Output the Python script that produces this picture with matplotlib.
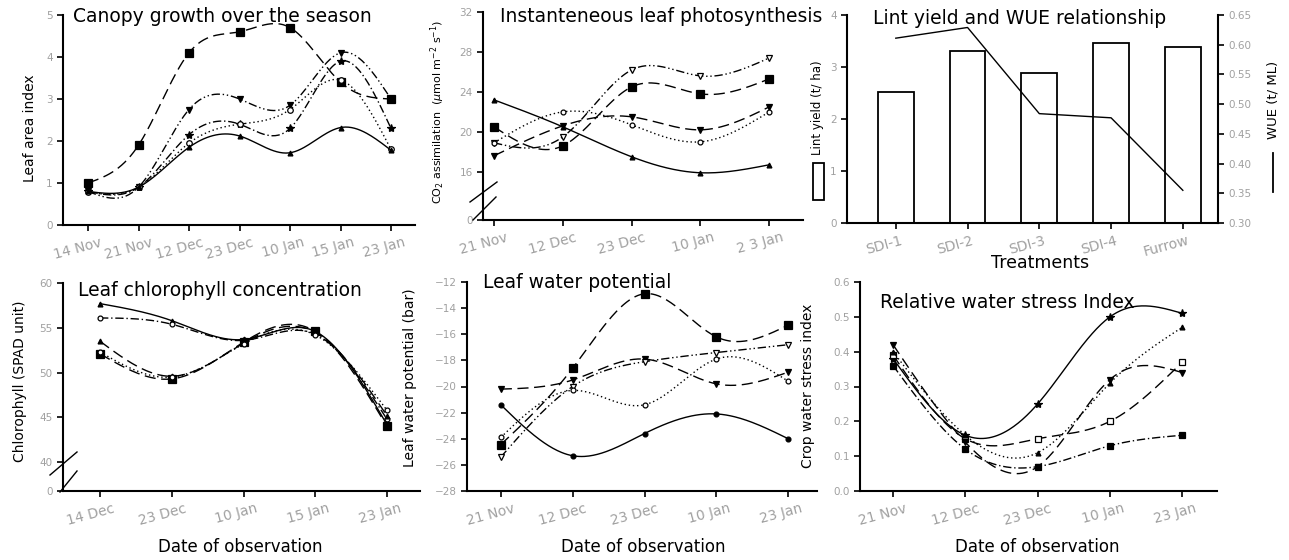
import numpy as np
import matplotlib.pyplot as plt
from matplotlib.lines import Line2D
from matplotlib.patches import Rectangle
import matplotlib.transforms as mtrans

W, H = 1289, 560
GRAY = '#a0a0a0'

# ---- data ----
lai_dates = ['14 Nov', '21 Nov', '12 Dec', '23 Dec', '10 Jan', '15 Jan', '23 Jan']
lai_sq = [1.0, 1.9, 4.1, 4.6, 4.7, 3.4, 3.0]
lai_tri = [0.8, 0.9, 2.75, 3.0, 2.85, 4.1, 3.0]
lai_star = [0.8, 0.9, 2.15, 2.4, 2.3, 3.9, 2.3]
lai_open = [0.78, 0.9, 1.95, 2.4, 2.75, 3.45, 1.8]
lai_solid = [0.8, 0.9, 1.85, 2.12, 1.72, 2.32, 1.78]

ps_dates = ['21 Nov', '12 Dec', '23 Dec', '10 Jan', '2 3 Jan']
ps_sq = [20.5, 18.6, 24.5, 23.8, 25.3]
ps_tri = [23.2, 20.5, 17.5, 15.9, 16.7]
ps_otri = [18.9, 19.5, 26.2, 25.6, 27.4]
ps_dtri = [17.6, 20.6, 21.5, 20.2, 22.5]
ps_circ = [18.9, 22.0, 20.7, 19.0, 22.0]

treatments = ['SDI-1', 'SDI-2', 'SDI-3', 'SDI-4', 'Furrow']
lint_yield = [2.52, 3.31, 2.89, 3.47, 3.38]
wue = [0.611, 0.629, 0.484, 0.477, 0.355]

chl_dates = ['14 Dec', '23 Dec', '10 Jan', '15 Jan', '23 Jan']
chl_a = [57.7, 55.8, 53.7, 54.6, 44.2]
chl_b = [56.1, 55.4, 53.6, 54.3, 44.8]
chl_c = [53.5, 49.6, 53.3, 54.5, 45.2]
chl_sq = [52.1, 49.3, 53.4, 54.6, 44.0]
chl_d = [52.3, 49.5, 53.2, 54.2, 45.8]

lwp_dates = ['21 Nov', '12 Dec', '23 Dec', '10 Jan', '23 Jan']
lwp_sq = [-24.45, -18.6, -12.9, -16.2, -15.3]
lwp_dtri = [-20.2, -19.5, -17.9, -19.8, -18.9]
lwp_otri = [-25.4, -20.0, -18.1, -17.4, -16.8]
lwp_ocirc = [-23.9, -20.3, -21.4, -17.9, -19.6]
lwp_circ = [-21.4, -25.3, -23.6, -22.1, -24.0]

cwsi_dates = ['21 Nov', '12 Dec', '23 Dec', '10 Jan', '23 Jan']
cwsi_star = [0.38, 0.16, 0.25, 0.50, 0.51]
cwsi_osq = [0.39, 0.15, 0.15, 0.20, 0.37]
cwsi_dot = [0.40, 0.16, 0.11, 0.31, 0.47]
cwsi_dtri = [0.42, 0.14, 0.07, 0.32, 0.34]
cwsi_sq = [0.36, 0.12, 0.07, 0.13, 0.16]

# line styles
LONG = (0, (8, 4))
DDOT = (0, (6, 2, 1, 2, 1, 2))
DDOT1 = (0, (6, 2, 1, 2))
DOT = (0, (1, 2))
SOLID = '-'


def spline(y, n=200):
  # natural cubic spline through evenly spaced points (smoothed line like the source)
  y = np.asarray(y, float)
  m = len(y)
  A = np.zeros((m, m))
  b = np.zeros(m)
  A[0, 0] = A[-1, -1] = 1
  for i in range(1, m - 1):
    A[i, i - 1:i + 2] = [1, 4, 1]
    b[i] = 6 * (y[i + 1] - 2 * y[i] + y[i - 1])
  M = np.linalg.solve(A, b)
  xs = np.linspace(0, m - 1, n)
  i = np.minimum(xs.astype(int), m - 2)
  t = xs - i
  ys = ((1 - t) * y[i] + t * y[i + 1]
        + ((1 - t) ** 3 - (1 - t)) * M[i] / 6 + (t ** 3 - t) * M[i + 1] / 6)
  return xs, ys


def series(ax, y, ls, marker, ms=5, filled=True):
  xs, ys = spline(y)
  ax.plot(xs, ys, color='black', lw=1.0, ls=ls)
  ax.plot(range(len(y)), y, ls='none', marker=marker, ms=ms, color='black',
          mfc='black' if filled else 'white', mew=0.9)


def make_ax(l, t, r, b):
  ax = fig.add_axes([l / W, 1 - b / H, (r - l) / W, (b - t) / H])
  for s in ['top', 'right']:
    ax.spines[s].set_visible(False)
  for s in ['left', 'bottom']:
    ax.spines[s].set_linewidth(1.5)
  ax.tick_params(direction='out', length=4, width=1.2, colors='black',
                 labelcolor=GRAY, labelsize=7.5)
  return ax


def date_ticks(ax, labels, size=10, rot=15, shift=12):
  ax.set_xticks(range(len(labels)))
  ax.set_xticklabels(labels, rotation=rot, ha='right', rotation_mode='anchor',
                     fontsize=size, color=GRAY)
  off = mtrans.ScaledTranslation(shift / 100, 0, fig.dpi_scale_trans)
  for lab in ax.get_xticklabels():
    lab.set_transform(lab.get_transform() + off)


def ftext(x, y, s, **kw):
  fig.text(x / W, 1 - y / H, s, **kw)


def axis_break(x0, y0, x1, y1):
  fig.add_artist(Line2D([x0 / W, x1 / W], [1 - y0 / H, 1 - y1 / H],
                        transform=fig.transFigure, color='black', lw=1.0))


fig = plt.figure(figsize=(W / 100, H / 100), dpi=100)

# ---- panel 1: canopy growth ----
ax1 = make_ax(63, 15, 415, 225)
series(ax1, lai_sq, LONG, 's', 6)
series(ax1, lai_tri, DDOT, 'v', 5)
series(ax1, lai_star, DDOT1, '*', 6)
series(ax1, lai_open, DOT, 'o', 4, filled=False)
series(ax1, lai_solid, SOLID, '^', 3.5)
ax1.set_xlim(-0.495, 6.475)
ax1.set_ylim(0, 5)
ax1.set_yticks(range(6))
date_ticks(ax1, lai_dates)
ftext(73, 17, 'Canopy growth over the season', fontsize=13.5, va='center')
ftext(30, 128, 'Leaf area index', fontsize=10, rotation=90, ha='center', va='center')

# ---- panel 2: photosynthesis ----
ax2 = make_ax(483, 12, 803, 220)
series(ax2, ps_sq, LONG, 's', 6)
series(ax2, ps_tri, SOLID, '^', 3.5)
series(ax2, ps_otri, DDOT, 'v', 5, filled=False)
series(ax2, ps_dtri, LONG, 'v', 5)
series(ax2, ps_circ, DOT, 'o', 3.5, filled=False)
ax2.set_xlim(-0.16, 4.49)
ax2.set_ylim(11.17, 32)
ax2.set_yticks([11.17, 16, 20, 24, 28, 32])
ax2.set_yticklabels(['0', '16', '20', '24', '28', '32'])
date_ticks(ax2, ps_dates)
axis_break(470, 202, 497, 182)
axis_break(473, 220, 496, 197)
ftext(500, 17, 'Instanteneous leaf photosynthesis', fontsize=13.5, va='center')
ftext(438, 112, r'CO$_2$ assimilation  ($\mu$mol m$^{-2}$ s$^{-1}$)', fontsize=8,
      rotation=90, ha='center', va='center')

# ---- panel 3: lint yield and WUE ----
ax3 = make_ax(847, 15, 1218, 223)
x3 = np.arange(len(treatments))
ax3.bar(x3, lint_yield, width=0.5, facecolor='white', edgecolor='black', lw=1.3)
ax3.set_xlim(-0.68, 4.49)
ax3.set_ylim(0, 4)
ax3.set_yticks(range(5))
ax3.set_xticks(x3)
ax3.set_xticklabels(treatments)
date_ticks(ax3, treatments, shift=4)
ax3r = ax3.twinx()
ax3r.plot(x3, wue, color='black', lw=1.0)
ax3r.set_ylim(0.30, 0.65)
ax3r.set_yticks(np.arange(0.30, 0.651, 0.05))
ax3r.set_yticklabels([f'{v:.2f}' for v in np.arange(0.30, 0.651, 0.05)])
for s in ['top', 'left']:
  ax3r.spines[s].set_visible(False)
ax3r.spines['right'].set_linewidth(1.5)
ax3r.spines['bottom'].set_visible(False)
ax3r.tick_params(direction='out', length=4, width=1.2, labelcolor=GRAY, labelsize=7.5)
ftext(873, 18, 'Lint yield and WUE relationship', fontsize=13.5, va='center')
ftext(1040, 263, 'Treatments', fontsize=12.5, ha='center', va='center')
ftext(818, 108, 'Lint yield (t/ ha)', fontsize=8.5, rotation=90, ha='center', va='center')
fig.add_artist(Rectangle((813 / W, 1 - 200 / H), 11 / W, 37 / H, transform=fig.transFigure,
                         facecolor='white', edgecolor='black', lw=1.3))
ftext(1273, 100, 'WUE (t/ ML)', fontsize=9.5, rotation=90, ha='center', va='center')
fig.add_artist(Line2D([1273 / W, 1273 / W], [1 - 153 / H, 1 - 192 / H],
                      transform=fig.transFigure, color='black', lw=1.3))

# ---- panel 4: chlorophyll ----
ax4 = make_ax(63, 283, 420, 491)
series(ax4, chl_a, SOLID, '^', 3.5)
series(ax4, chl_b, DDOT1, 'o', 3.5, filled=False)
series(ax4, chl_c, LONG, '^', 3.5)
series(ax4, chl_sq, LONG, 's', 5.5)
series(ax4, chl_d, DOT, 'o', 3.5, filled=False)
ax4.set_xlim(-0.516, 4.46)
ax4.set_ylim(36.8, 60)
ax4.set_yticks([36.8, 40, 45, 50, 55, 60])
ax4.set_yticklabels(['0', '40', '45', '50', '55', '60'])
date_ticks(ax4, chl_dates)
axis_break(50, 475, 77, 452)
axis_break(60, 492, 77, 471)
ftext(78, 290, 'Leaf chlorophyll concentration', fontsize=13.5, va='center')
ftext(20, 381, 'Chlorophyll (SPAD unit)', fontsize=10, rotation=90, ha='center', va='center')
ftext(240, 547, 'Date of observation', fontsize=12, ha='center', va='center')

# ---- panel 5: leaf water potential ----
ax5 = make_ax(467, 282, 817, 491)
series(ax5, lwp_sq, LONG, 's', 6)
series(ax5, lwp_dtri, LONG, 'v', 5)
series(ax5, lwp_otri, DDOT, 'v', 5, filled=False)
series(ax5, lwp_ocirc, DOT, 'o', 3.5, filled=False)
series(ax5, lwp_circ, SOLID, 'o', 3.5)
ax5.set_xlim(-0.47, 4.40)
ax5.set_ylim(-28, -12)
ax5.set_yticks(range(-28, -11, 2))
date_ticks(ax5, lwp_dates)
ftext(483, 283, 'Leaf water potential', fontsize=13.5, va='center')
ftext(410, 378, 'Leaf water potential (bar)', fontsize=10, rotation=90, ha='center', va='center')
ftext(643, 547, 'Date of observation', fontsize=12, ha='center', va='center')

# ---- panel 6: water stress index ----
ax6 = make_ax(860, 282, 1217, 491)
series(ax6, cwsi_star, SOLID, '*', 6)
series(ax6, cwsi_osq, LONG, 's', 5, filled=False)
series(ax6, cwsi_dot, DOT, '^', 3.5)
series(ax6, cwsi_dtri, LONG, 'v', 5)
series(ax6, cwsi_sq, DDOT1, 's', 5)
ax6.set_xlim(-0.457, 4.48)
ax6.set_ylim(0, 0.6)
ax6.set_yticks(np.arange(0, 0.61, 0.1))
ax6.set_yticklabels([f'{v:.1f}' for v in np.arange(0, 0.61, 0.1)])
date_ticks(ax6, cwsi_dates)
ftext(880, 303, 'Relative water stress Index', fontsize=13.5, va='center')
ftext(808, 386, 'Crop water stress index', fontsize=10, rotation=90, ha='center', va='center')
ftext(1037, 547, 'Date of observation', fontsize=12, ha='center', va='center')

fig.savefig('out.png', dpi=100)
